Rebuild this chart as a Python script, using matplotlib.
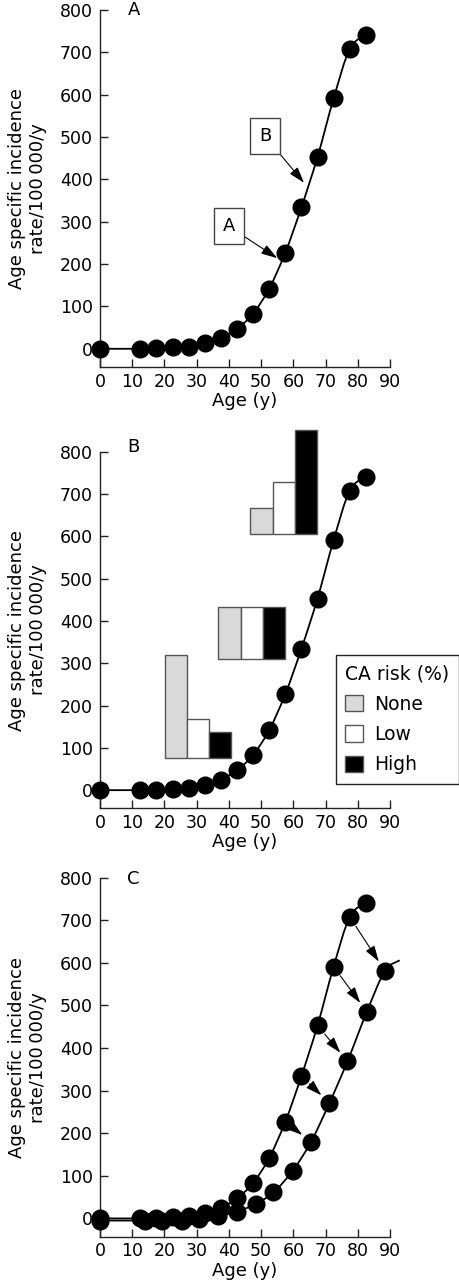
import numpy as np
import matplotlib
matplotlib.use("Agg")
import matplotlib.pyplot as plt
from matplotlib.path import Path
from matplotlib.patches import PathPatch, Patch

# ---------------- data ---------------- #
ages = [0, 12.5, 17.5, 22.5, 27.5, 32.5, 37.5, 42.5, 47.5, 52.5, 57.5, 62.5, 67.5, 72.5, 77.5, 82.5]
rate = [0, 0, 1, 3, 5, 13, 25, 47, 83, 142, 227, 334, 453, 591, 708, 741]

# panel C: curve shifted to older ages (last pair is the curve tail, no marker)
ages_shift = [0, 14, 19.3, 25.3, 30.8, 36.7, 42.6, 48.3, 53.8, 59.8, 65.5, 71.2, 76.8, 82.8, 88.4, 93]
rate_shift = [-5, -5, -5, -5, -2, 6, 16, 34, 61, 112, 180, 271, 369, 485, 581, 606]
arrow_idx = [10, 11, 12, 13, 14]

# panel A: labelled points on the curve
label_names = ["A", "B"]
label_xy = [(55.0, 214), (63.3, 392)]
label_text_xy = [(40.0, 289), (51.2, 502)]

# panel B: CA risk inset bars (three age groups)
risk_names = ["None", "Low", "High"]
risk_colors = ["#d9d9d9", "white", "black"]
risk_none = [244, 124, 62]
risk_low = [91, 124, 125]
risk_high = [61, 124, 248]
group_left = [20.1, 36.7, 46.65]
group_base = [76.5, 309.7, 604.5]

x_ticks = np.arange(0, 91, 10)
y_ticks = np.arange(0, 801, 100)

plt.rcParams["font.family"] = "DejaVu Sans"


def smooth_curve(ax, x, y, **kw):
    # Catmull-Rom style bezier through the points
    pts = np.column_stack([x, y]).astype(float)
    verts = [pts[0]]
    codes = [Path.MOVETO]
    n = len(pts)
    for i in range(n - 1):
        p0 = pts[i - 1] if i > 0 else pts[i]
        p1, p2 = pts[i], pts[i + 1]
        p3 = pts[i + 2] if i + 2 < n else pts[i + 1]
        verts += [p1 + (p2 - p0) / 6, p2 - (p3 - p1) / 6, p2]
        codes += [Path.CURVE4] * 3
    patch = PathPatch(Path(verts, codes), fill=False, **kw)
    ax.add_patch(patch)


def style_axes(ax, letter, letter_y):
    ax.set_xlim(0, 90)
    ax.set_ylim(-43, 800)
    ax.set_xticks(x_ticks)
    ax.set_yticks(y_ticks)
    for s in ["top", "right"]:
        ax.spines[s].set_visible(False)
    for s in ["left", "bottom"]:
        ax.spines[s].set_linewidth(1.0)
        ax.spines[s].set_color("#222222")
    ax.tick_params(direction="in", length=6, width=1, labelsize=12.5, color="#222222")
    ax.tick_params(axis="y", pad=5)
    ax.tick_params(axis="x", pad=4)
    ax.set_xlabel("Age (y)", fontsize=13, labelpad=1)
    ax.set_ylabel("Age specific incidence\nrate/100\u2009000/y", fontsize=13,
                  linespacing=1.25, labelpad=9)
    ax.text(8.5, letter_y, letter, fontsize=13, va="center", ha="left")


def draw_curve(ax, x, y, n_markers=None):
    smooth_curve(ax, x, y, edgecolor="black", linewidth=1.3, clip_on=False, zorder=3)
    k = len(x) if n_markers is None else n_markers
    ax.plot(x[:k], y[:k], "o", color="black", markersize=12, clip_on=False, zorder=4)


fig = plt.figure(figsize=(4.59, 12.8), dpi=100)
axA = fig.add_axes([0.2179, 0.7133, 0.6318, 0.2789])
axB = fig.add_axes([0.2179, 0.3685, 0.6318, 0.2786])
axC = fig.add_axes([0.2179, 0.0338, 0.6318, 0.2805])

# ---- panel A ---- #
style_axes(axA, "A", 800)
draw_curve(axA, ages, rate)
for name, xy, txy in zip(label_names, label_xy, label_text_xy):
    axA.annotate(name, xy=xy, xytext=txy, fontsize=13, ha="center", va="center",
                 bbox=dict(boxstyle="square,pad=0.5", fc="white", ec="#444444", lw=1),
                 arrowprops=dict(arrowstyle="-|>,head_length=0.7,head_width=0.22",
                                 color="black", lw=0.8, mutation_scale=14,
                                 shrinkA=0, shrinkB=0))

# ---- panel B ---- #
style_axes(axB, "B", 812)
draw_curve(axB, ages, rate)
bar_w = 6.9
for j, vals in enumerate([risk_none, risk_low, risk_high]):
    lefts = [g + j * bar_w for g in group_left]
    axB.bar(lefts, vals, width=bar_w, bottom=group_base, align="edge",
            color=risk_colors[j], edgecolor="#555555", linewidth=1,
            clip_on=False, zorder=2)
handles = [Patch(facecolor=c, edgecolor="#555555", linewidth=1) for c in risk_colors]
fig.legend(handles, risk_names, title="CA risk (%)", loc="upper left",
           bbox_to_anchor=(336 / 459, 1 - 655 / 1280), borderaxespad=0,
           fontsize=13.5, title_fontsize=13.5, alignment="left",
           handlelength=0.95, handleheight=0.95, handletextpad=0.6,
           labelspacing=0.6, borderpad=0.5, fancybox=False,
           edgecolor="#222222", framealpha=1)

# ---- panel C ---- #
style_axes(axC, "C", 796)
draw_curve(axC, ages, rate)
draw_curve(axC, ages_shift, rate_shift, n_markers=len(ages_shift) - 1)
for i in arrow_idx:
    axC.annotate("", xy=(ages_shift[i], rate_shift[i]), xytext=(ages[i], rate[i]),
                 arrowprops=dict(arrowstyle="-|>,head_length=0.7,head_width=0.22",
                                 color="black", lw=0.8, mutation_scale=14,
                                 shrinkA=8, shrinkB=8), zorder=5)

fig.savefig("out.png", dpi=100)
